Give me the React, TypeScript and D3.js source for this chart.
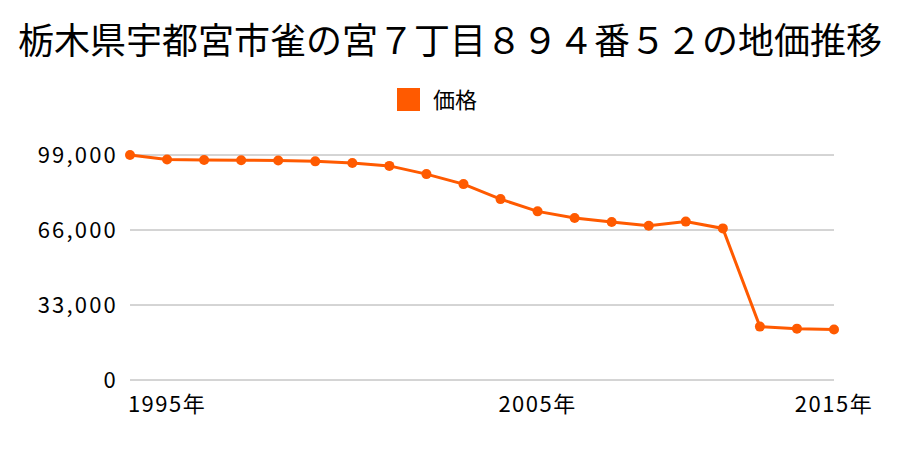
import React from "react";
import * as d3 from "d3";

const title = "栃木県宇都宮市雀の宮７丁目８９４番５２の地価推移";
const seriesName = "価格";
const years = [
  1994, 1995, 1996, 1997, 1998, 1999, 2000, 2001, 2002, 2003, 2004, 2005,
  2006, 2007, 2008, 2009, 2010, 2013, 2014, 2015,
];
const prices = [
  99000, 97000, 96800, 96700, 96600, 96200, 95500, 94200, 90600, 86200, 79600,
  74200, 71300, 69500, 67900, 69700, 66700, 23500, 22600, 22200,
];
const yTicks = [0, 33000, 66000, 99000];
const xTickYears = [1995, 2005, 2015];

const W = 900;
const H = 450;
const left = 130;
const right = 834;
const top = 155;
const bottom = 380;
const color = "#ff5a00";
const font = "'Noto Sans CJK JP', 'Noto Sans', sans-serif";

export default function App() {
  const x = d3.scalePoint<number>().domain(years).range([left, right]);
  const y = d3.scaleLinear().domain([0, 99000]).range([bottom, top]);
  const line = d3
    .line<number>()
    .x((_, i) => x(years[i]) as number)
    .y((d) => y(d));
  const fmt = d3.format(",");

  return (
    <svg
      width={W}
      height={H}
      style={{ position: "absolute", left: 0, top: 0, background: "#fff" }}
      fontFamily={font}
    >
      <text x={450} y={54} textAnchor="middle" fontSize={36} fill="#000">
        {title}
      </text>
      <rect x={397} y={88} width={23} height={23} fill={color} />
      <text x={433} y={108} fontSize={22} fill="#000">
        {seriesName}
      </text>
      {yTicks.map((t) => (
        <g key={t}>
          <line
            x1={left}
            x2={right}
            y1={y(t)}
            y2={y(t)}
            stroke="#aaaaaa"
            strokeWidth={1}
          />
          <text
            x={118}
            y={y(t) + 8}
            textAnchor="end"
            fontSize={22}
            letterSpacing={2.2}
            fill="#000"
          >
            {t === 0 ? "0" : fmt(t)}
          </text>
        </g>
      ))}
      {xTickYears.map((yr) => (
        <text
          key={yr}
          x={x(yr) as number}
          y={412}
          textAnchor="middle"
          fontSize={22}
          letterSpacing={1.5}
          fill="#000"
        >
          {yr + "年"}
        </text>
      ))}
      <path d={line(prices) || ""} fill="none" stroke={color} strokeWidth={3} />
      {prices.map((p, i) => (
        <circle key={i} cx={x(years[i]) as number} cy={y(p)} r={5} fill={color} />
      ))}
    </svg>
  );
}
